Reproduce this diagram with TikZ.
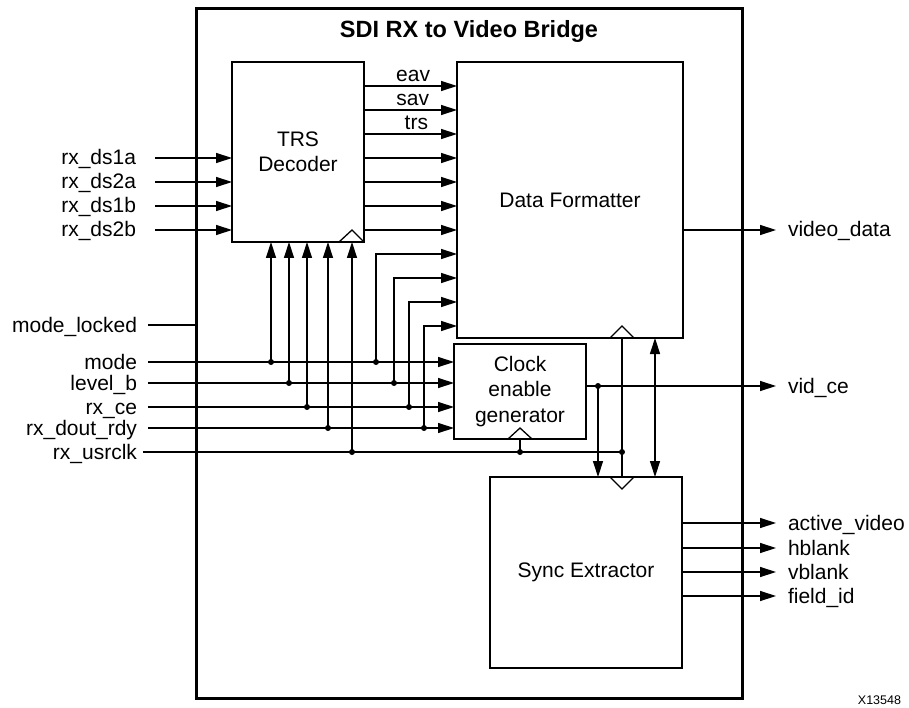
\documentclass[tikz,border=0pt]{standalone}
\usepackage{fontspec}
\setmainfont{Liberation Sans}
\usetikzlibrary{arrows.meta}
\begin{document}
\begin{tikzpicture}[x=1pt,y=-1pt,
  every node/.style={font=\fontsize{21}{25.5}\selectfont, inner sep=0pt, outer sep=0pt},
  blk/.style={draw, line width=1.4pt, align=center},
  sig/.style={line width=1.3pt},
  tip/.tip={Triangle[length=16pt,width=10pt]},
  arr/.style={sig, -tip},
  biarr/.style={sig, tip-tip},
  jdot/.style={circle, fill, inner sep=0pt, minimum size=6pt},
  inlbl/.style={anchor=base east},
  outlbl/.style={anchor=base west},
  clk/.style={line width=1.3pt}]
\useasboundingbox (0,0) rectangle (909,708);

% outer box and title
\node[draw, line width=3pt, minimum width=546pt, minimum height=689pt] (outer) at (469,353.5) {};
\node[font=\fontsize{23.5}{28}\selectfont\bfseries, anchor=base] (title) at (469,38) {SDI RX to Video Bridge};

% blocks
\node[blk, minimum width=132pt, minimum height=180pt] (trs) at (298,152) {TRS\\Decoder};
\node[blk, minimum width=226pt, minimum height=276pt] (df) at (570,200) {Data Formatter};
\node[blk, minimum width=132pt, minimum height=95pt] (ceg) at (520,391.5) {Clock\\enable\\generator};
\node[blk, minimum width=192pt, minimum height=191pt] (se) at (586,572.5) {Sync Extractor};

% clock triangles
\draw[clk] (339,242) -- (352,230) -- (364,242);
\draw[clk] (508,439) -- (520,428) -- (532,439);
\draw[clk] (610,338) -- (622,326) -- (634,338);
\draw[clk] (610,477) -- (622,489) -- (634,477);

% TRS data inputs
\node[inlbl] (ds1a) at (136,165) {rx\_ds1a};
\node[inlbl] (ds2a) at (136,189) {rx\_ds2a};
\node[inlbl] (ds1b) at (136,213) {rx\_ds1b};
\node[inlbl] (ds2b) at (136,237) {rx\_ds2b};
\foreach \y in {158,182,206,230}
  \draw[arr] (155,\y) -- (trs.west |- 0,\y);

% TRS to DF
\foreach \y in {86,110,134,158,182,206,230}
  \draw[arr] (trs.east |- 0,\y) -- (df.west |- 0,\y);
\node[anchor=base east] (eav) at (430,82) {eav};
\node[anchor=base east] (sav) at (429,106) {sav};
\node[anchor=base east] (trsl) at (428,130) {trs};

% control inputs
\node[inlbl] (ml) at (137,332) {mode\_locked};
\node[inlbl] (mode) at (137,369) {mode};
\node[inlbl] (lvb) at (137,390) {level\_b};
\node[inlbl] (rxce) at (137,414) {rx\_ce};
\node[inlbl] (rdy) at (137,435) {rx\_dout\_rdy};
\node[inlbl] (clkl) at (137,459) {rx\_usrclk};

\draw[sig] (148,325) -- (outer.west |- 0,325);
\draw[arr] (148,362) -- (ceg.west |- 0,362);
\draw[arr] (148,383) -- (ceg.west |- 0,383);
\draw[arr] (148,407) -- (ceg.west |- 0,407);
\draw[arr] (148,428) -- (ceg.west |- 0,428);
\draw[sig] (143,452) -- (622,452);

% taps to TRS
\coordinate (t1) at (271,362);
\coordinate (t2) at (289,383);
\coordinate (t3) at (307,407);
\coordinate (t4) at (328,428);
\coordinate (t5) at (352,452);
\foreach \t in {t1,t2,t3,t4,t5} {
  \draw[arr] (\t) -- (\t |- trs.south);
  \node[jdot] at (\t) {};
}

% taps to DF
\coordinate (d1) at (376,362);
\coordinate (d2) at (394,383);
\coordinate (d3) at (409,407);
\coordinate (d4) at (424,428);
\draw[arr] (d1) |- (df.west |- 0,254);
\draw[arr] (d2) |- (df.west |- 0,278);
\draw[arr] (d3) |- (df.west |- 0,302);
\draw[arr] (d4) |- (df.west |- 0,326);
\foreach \t in {d1,d2,d3,d4} \node[jdot] at (\t) {};

% clock to CEG, DF, SE
\coordinate (c1) at (520,452);
\coordinate (c2) at (622,452);
\draw[sig] (c1) -- (c1 |- ceg.south);
\draw[sig] (c2 |- df.south) -- (c2 |- se.north);
\node[jdot] at (c1) {};
\node[jdot] at (c2) {};

% CEG output
\coordinate (v1) at (598,386);
\node[outlbl] (vidce) at (788,393) {vid\_ce};
\draw[arr] (ceg.east |- v1) -- (776,386);
\draw[arr] (v1) -- (v1 |- se.north);
\node[jdot] at (v1) {};

% DF <-> SE
\draw[biarr] (655,0 |- df.south) -- (655,0 |- se.north);

% DF output
\node[outlbl] (vd) at (788,237) {video\_data};
\draw[arr] (df.east |- 0,230) -- (776,230);

% SE outputs
\node[outlbl] (av) at (788,530) {active\_video};
\node[outlbl] (hb) at (788,555) {hblank};
\node[outlbl] (vb) at (788,579) {vblank};
\node[outlbl] (fi) at (788,603) {field\_id};
\foreach \y in {523,548,572,596}
  \draw[arr] (se.east |- 0,\y) -- (776,\y);

\node[anchor=base east, font=\fontsize{12.5}{15}\selectfont] (code) at (901,704) {X13548};
\end{tikzpicture}
\end{document}
